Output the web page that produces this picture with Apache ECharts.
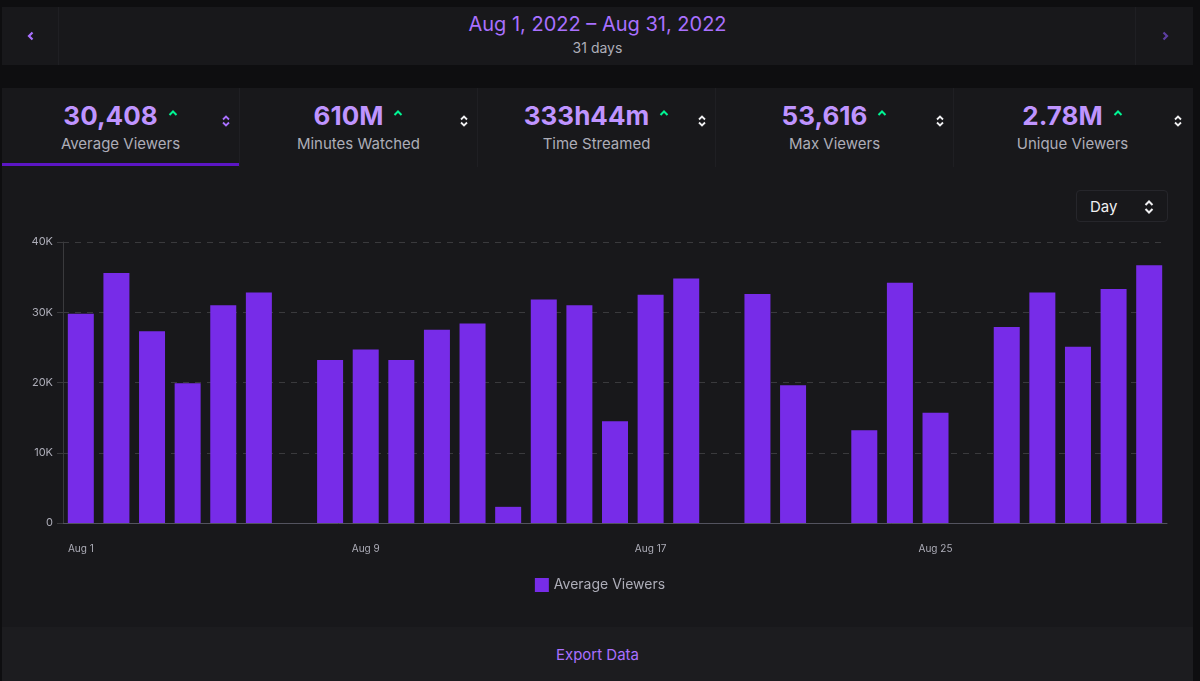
<!DOCTYPE html>
<html>
<head>
<meta charset="utf-8">
<script src="https://cdn.jsdelivr.net/npm/echarts@6/dist/echarts.min.js"></script>
<style>
  html, body { margin:0; padding:0; width:1200px; height:681px; background:#0e0e10; overflow:hidden; font-family: Inter, "Noto Sans", sans-serif; }
  .abs { position:absolute; }
  #header { left:2px; top:7px; width:1191px; height:58px; background:#18181b; }
  #hl { left:0; top:0; width:56px; height:58px; border-right:1px solid #1f1f23; }
  #hr { right:0; top:0; width:57px; height:58px; border-left:1px solid #1f1f23; }
  #date { left:0; width:1191px; top:5px; text-align:center; color:#a970ff; font-size:20px; }
  #days { left:0; width:1191px; top:32px; text-align:center; color:#adadb8; font-size:14px; }
  #main { left:2px; top:88px; width:1191px; height:593px; background:#18181b; }
  .card { top:0; height:79px; width:237px; border-right:1px solid #1f1f23; }
  .num { position:absolute; left:0; right:0; top:12px; text-align:center; font-size:26px; font-weight:700; color:#bf94ff; }
  .lbl { position:absolute; left:0; right:0; top:46px; text-align:center; font-size:15px; color:#adadb8; }
  .caret { display:inline-block; margin-left:10px; vertical-align:8px; }
  .sort { position:absolute; right:8px; top:26px; }
  #under { left:0; top:75px; width:237px; height:3px; background:#5c16c5; }
  #day { left:1074px; top:102px; width:92px; height:32px; border:1px solid #26262b; border-radius:4px; box-sizing:border-box; }
  #daytxt { left:13px; top:6px; color:#efeff1; font-size:15px; }
  #export { left:0; top:539px; width:1191px; height:54px; background:#1c1c1f; }
  #exptxt { left:0; width:1191px; top:18px; text-align:center; color:#a970ff; font-size:15px; }
  #chart { left:0; top:170px; width:1200px; height:455px; }
</style>
</head>
<body>
<div id="header" class="abs">
  <div id="hl" class="abs"><svg class="abs" style="left:24px;top:24px" width="10" height="10" viewBox="0 0 10 10"><path d="M6.5 1.5 L3 5 L6.5 8.5" stroke="#a970ff" stroke-width="2.2" fill="none"/></svg></div>
  <div id="date" class="abs">Aug 1, 2022 – Aug 31, 2022</div>
  <div id="days" class="abs">31 days</div>
  <div id="hr" class="abs"><svg class="abs" style="left:24px;top:24px" width="10" height="10" viewBox="0 0 10 10"><path d="M3.5 1.5 L7 5 L3.5 8.5" stroke="#5c3ea0" stroke-width="2.2" fill="none"/></svg></div>
</div>
<div id="main" class="abs">
  <div id="cards"></div>
  <div id="under" class="abs"></div>
  <div id="day" class="abs"><div id="daytxt" class="abs">Day</div>
    <svg class="abs" style="left:66px;top:8px" width="12" height="16" viewBox="0 0 12 16"><path d="M2.5 6 L6 2.5 L9.5 6 M2.5 10 L6 13.5 L9.5 10" stroke="#efeff1" stroke-width="2" fill="none"/></svg>
  </div>
  <div id="export" class="abs"><div id="exptxt" class="abs">Export Data</div></div>
</div>
<div id="chart" class="abs"></div>
<script>
// ---- data ----
const categories = ["Aug 1","Aug 2","Aug 3","Aug 4","Aug 5","Aug 6","Aug 7","Aug 8","Aug 9","Aug 10","Aug 11","Aug 12","Aug 13","Aug 14","Aug 15","Aug 16","Aug 17","Aug 18","Aug 19","Aug 20","Aug 21","Aug 22","Aug 23","Aug 24","Aug 25","Aug 26","Aug 27","Aug 28","Aug 29","Aug 30","Aug 31"];
const averageViewers = [29800,35600,27300,19900,31000,32800,null,23200,24700,23200,27500,28400,2300,31800,31000,14500,32500,34800,null,32600,19600,null,13200,34200,15700,null,27900,32800,25100,33300,36700];
const yTicks = [0,10000,20000,30000,40000];
const statValues = ["30,408","610M","333h44m","53,616","2.78M"];
const statLabels = ["Average Viewers","Minutes Watched","Time Streamed","Max Viewers","Unique Viewers"];
const seriesName = "Average Viewers";

// ---- stat cards ----
const cardsEl = document.getElementById('cards');
statValues.forEach((v, i) => {
  const c = document.createElement('div');
  c.className = 'card abs';
  c.style.left = (i * 238) + 'px';
  if (i === 4) { c.style.width = '237px'; c.style.borderRight = 'none'; }
  const sc = i === 0 ? '#a970ff' : '#efeff1';
  c.innerHTML = '<div class="num">' + v +
    '<svg class="caret" width="10" height="8" viewBox="0 0 10 8"><path d="M1.5 6 L5 2.5 L8.5 6" stroke="#00f593" stroke-width="2" fill="none"/></svg></div>' +
    '<div class="lbl">' + statLabels[i] + '</div>' +
    '<svg class="sort" width="10" height="14" viewBox="0 0 10 14"><path d="M2 5.5 L5 2.5 L8 5.5 M2 8.5 L5 11.5 L8 8.5" stroke="' + sc + '" stroke-width="1.8" fill="none"/></svg>';
  cardsEl.appendChild(c);
});

// ---- chart ----
const chart = echarts.init(document.getElementById('chart'), null, { renderer: 'canvas' });
chart.setOption({
  backgroundColor: 'transparent',
  animation: false,
  grid: { left: 63, right: 33, top: 72, bottom: 102, containLabel: false },
  legend: {
    data: [seriesName], bottom: 28, left: 'center',
    itemWidth: 14, itemHeight: 14, itemGap: 8,
    icon: 'rect',
    textStyle: { color: '#adadb8', fontSize: 14, fontFamily: 'Inter' }
  },
  xAxis: {
    type: 'category', data: categories,
    axisLine: { lineStyle: { color: '#53535f' } },
    axisTick: { show: false },
    axisLabel: { interval: 7, color: '#adadb8', fontSize: 10, margin: 21, fontFamily: 'Inter' }
  },
  yAxis: {
    type: 'value', min: 0, max: yTicks[yTicks.length-1], interval: yTicks[1] - yTicks[0],
    axisLine: { show: true, lineStyle: { color: '#3a3a3d' } },
    axisTick: { show: true, length: 6, lineStyle: { color: '#3a3a3d' } },
    axisLabel: { color: '#adadb8', fontSize: 11, margin: 10, fontFamily: 'Inter',
      formatter: v => v === 0 ? '0' : (v / 1000) + 'K' },
    splitLine: { lineStyle: { color: '#3a3a3d', type: [6, 6] } }
  },
  series: [{
    name: seriesName, type: 'bar', data: averageViewers,
    barWidth: 26,
    itemStyle: { color: '#772ce8' }
  }]
});
</script>
</body>
</html>
